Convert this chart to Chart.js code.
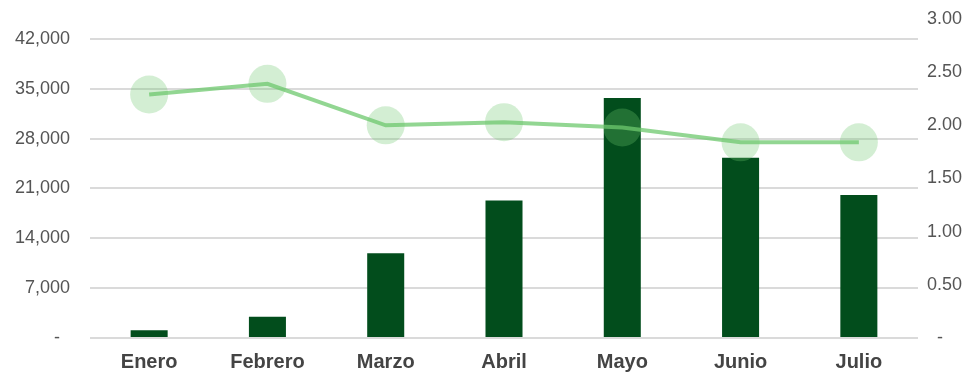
<!DOCTYPE html>
<html>
<head>
<meta charset="utf-8">
<script src="https://cdn.jsdelivr.net/npm/chart.js@4"></script>
<style>
  html, body { margin: 0; padding: 0; background: #fff; }
  #wrap { width: 968px; height: 373px; }
</style>
</head>
<body>
<div id="wrap"><canvas id="myChart"></canvas></div>
<script>
const months = ["Enero", "Febrero", "Marzo", "Abril", "Mayo", "Junio", "Julio"];
const barValues = [1100, 3000, 11900, 19300, 33700, 25300, 20100];
const lineValues = [2.29, 2.39, 2.00, 2.03, 1.98, 1.84, 1.84];
const leftTicks = [0, 7000, 14000, 21000, 28000, 35000, 42000];
const rightTicks = [0, 0.5, 1, 1.5, 2, 2.5, 3];

const tickFont = { family: "'Liberation Sans', Arial, sans-serif", size: 18 };

// fixed box sizes so the plot area sits where the reference has it
function fixWidth(w) {
  return function (scale) {
    scale.width = w;
    scale.paddingTop = 0;
    scale.paddingBottom = 0;
  };
}

const ctx = document.getElementById("myChart");
const chart = new Chart(ctx, {
  data: {
    labels: months,
    datasets: [{
      type: "line",
      data: lineValues,
      yAxisID: "y1",
      borderColor: "rgba(110, 200, 110, 0.75)",
      borderWidth: 4,
      tension: 0,
      pointRadius: 19,
      pointBorderWidth: 0,
      pointBackgroundColor: "rgba(110, 200, 110, 0.3)",
      order: 0,
    }, {
      type: "bar",
      data: barValues,
      yAxisID: "y",
      backgroundColor: "#024d1c",
      barPercentage: 0.313,
      categoryPercentage: 1,
      order: 1,
    }],
  },
  options: {
    responsive: true,
    maintainAspectRatio: false,
    animation: false,
    layout: { padding: { top: 18, left: 0, right: 0, bottom: 0 } },
    plugins: { legend: { display: false }, tooltip: { enabled: false } },
    scales: {
      x: {
        grid: { display: false, drawTicks: false },
        border: { display: false },
        ticks: {
          padding: 12,
          color: "#444",
          font: { family: "'Liberation Sans', Arial, sans-serif", size: 20, weight: "bold" },
        },
        afterFit: function (scale) {
          scale.height = 35;
          scale.paddingLeft = 0;
          scale.paddingRight = 0;
        },
      },
      y: {
        position: "left",
        min: 0,
        max: 44800,
        afterBuildTicks: function (scale) {
          scale.ticks = leftTicks.map(v => ({ value: v }));
        },
        grid: { color: "#dadada", lineWidth: 2, drawTicks: false },
        border: { display: false },
        ticks: {
          padding: 20,
          color: "#555",
          font: tickFont,
          callback: function (v) {
            return v === 0 ? "-  " : v.toLocaleString("en-US");
          },
        },
        afterFit: fixWidth(90),
      },
      y1: {
        position: "right",
        min: 0,
        max: 3,
        afterBuildTicks: function (scale) {
          scale.ticks = rightTicks.map(v => ({ value: v }));
        },
        grid: { display: false, drawTicks: false },
        border: { display: false },
        ticks: {
          padding: 9,
          color: "#555",
          font: tickFont,
          callback: function (v) {
            return v === 0 ? "  -" : v.toFixed(2);
          },
        },
        afterFit: fixWidth(50),
      },
    },
  },
});
</script>
</body>
</html>
